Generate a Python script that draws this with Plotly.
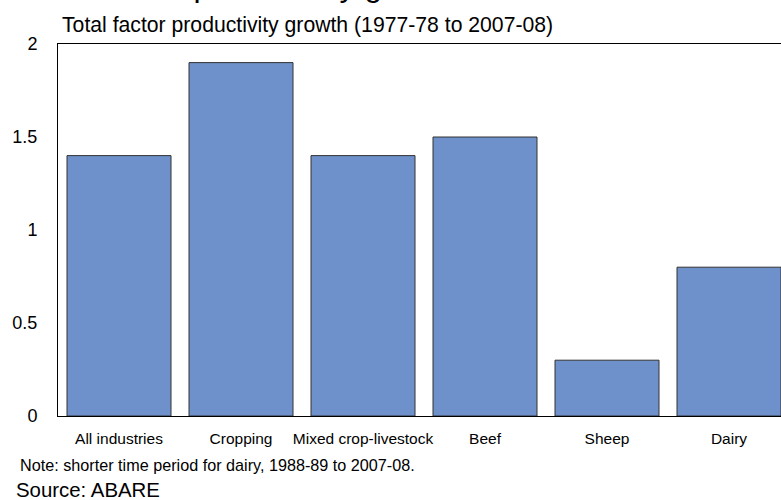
import plotly.graph_objects as go

# Productivity growth by farm industry
industries = ["All industries", "Cropping", "Mixed crop-livestock", "Beef", "Sheep", "Dairy"]
tfp_growth = [1.4, 1.9, 1.4, 1.5, 0.3, 0.8]
y_ticks = [0, 0.5, 1, 1.5, 2]
y_tick_labels = ["0", "0.5", "1", "1.5", "2"]

title_text = "Farm productivity growth"
subtitle_text = "Total factor productivity growth (1977-78 to 2007-08)"
note_text = "Note: shorter time period for dairy, 1988-89 to 2007-08."
source_text = "Source: ABARE"

W, H = 781, 500
M_L, M_R, M_T, M_B = 58, 0, 44, 84
PLOT_H = H - M_T - M_B
PLOT_W = W - M_L - M_R
CAT_PX = 122  # pixel width of one category slot

FONT = "Liberation Sans, Arial, sans-serif"
BAR_COLOR = "#6E91CB"


def py(px):
    """Convert a pixel row (from top of page) to paper y coordinate."""
    return 1 + (M_T - px) / PLOT_H


def px_x(px):
    """Convert a pixel column to paper x coordinate."""
    return (px - M_L) / PLOT_W


fig = go.Figure(
    go.Bar(
        x=industries,
        y=tfp_growth,
        marker=dict(color=BAR_COLOR, line=dict(color="#333333", width=1)),
        hoverinfo="x+y",
    )
)

fig.update_layout(
    width=W,
    height=H,
    margin=dict(l=M_L, r=M_R, t=M_T, b=M_B, pad=0),
    paper_bgcolor="white",
    plot_bgcolor="white",
    bargap=18 / CAT_PX,
    showlegend=False,
    font=dict(family=FONT, color="black"),
)

fig.update_xaxes(
    range=[-0.5, -0.5 + PLOT_W / CAT_PX],
    showline=True,
    linecolor="black",
    linewidth=1,
    mirror=True,
    showgrid=False,
    ticks="",
    ticklabelstandoff=8,
    tickfont=dict(size=15.5, family=FONT, color="black"),
    fixedrange=True,
)

fig.update_yaxes(
    range=[0, 2],
    tickvals=y_ticks,
    ticktext=y_tick_labels,
    showline=True,
    linecolor="black",
    linewidth=1,
    mirror=False,
    showgrid=False,
    zeroline=False,
    ticks="",
    ticklabelstandoff=16,
    tickfont=dict(size=18, family=FONT, color="black"),
    fixedrange=True,
)

annotations = [
    dict(text=title_text, x=px_x(108), y=py(-15), font=dict(size=32)),
    dict(text=subtitle_text, x=px_x(60), y=py(25), font=dict(size=21.2)),
    dict(text=note_text, x=px_x(18), y=py(465), font=dict(size=16.2)),
    dict(text=source_text, x=px_x(14), y=py(490), font=dict(size=20.4)),
]
for a in annotations:
    fig.add_annotation(
        xref="paper", yref="paper", xanchor="left", yanchor="middle",
        showarrow=False, align="left", **a,
    )

fig.write_html("out.html")
